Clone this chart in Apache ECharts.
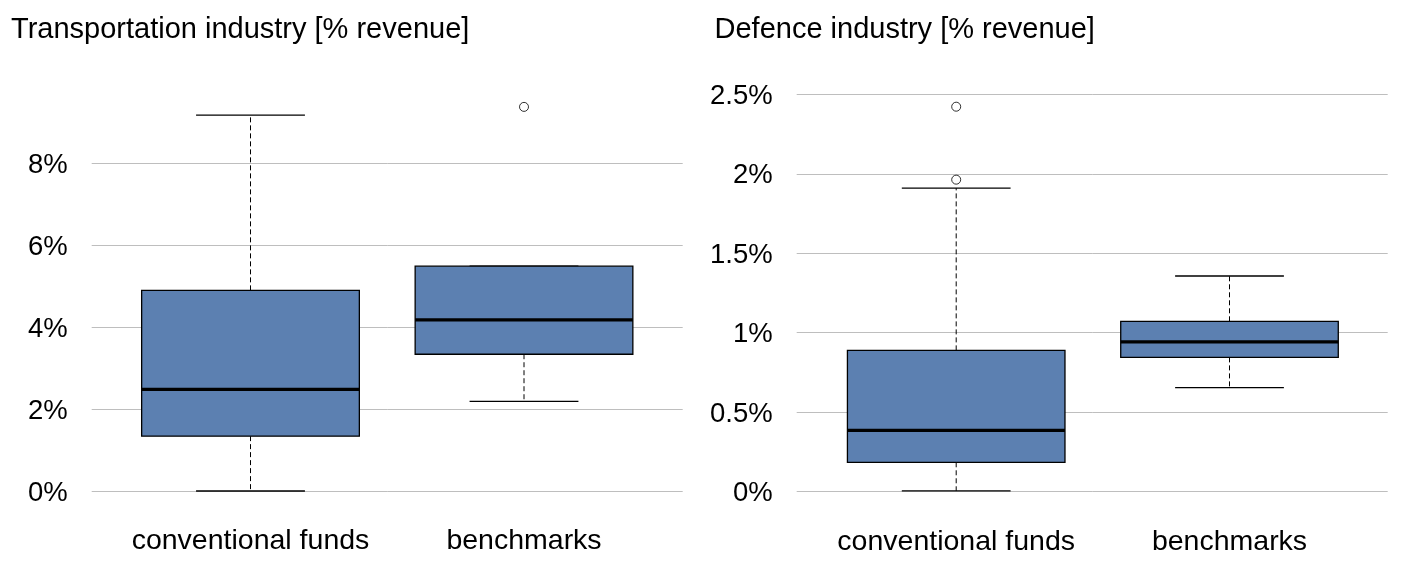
<!DOCTYPE html>
<html>
<head>
<meta charset="utf-8">
<script src="https://cdn.jsdelivr.net/npm/echarts@6/dist/echarts.min.js"></script>
<style>
html,body{margin:0;padding:0;background:#fff;}
#chart{width:1411px;height:576px;}
</style>
</head>
<body>
<div id="chart"></div>
<script>
// ---- data ----
const categories = ['conventional funds', 'benchmarks'];

const transportLow    = [0.00, 2.19];
const transportQ1     = [1.34, 3.34];
const transportMedian = [2.48, 4.18];
const transportQ3     = [4.90, 5.49];
const transportHigh   = [9.18, 5.49];
const transportOutliers = [[1, 9.38]];
const transportTicks = { min: 0, max: 8, interval: 2 };

const defenceLow    = [0.005, 0.655];
const defenceQ1     = [0.185, 0.845];
const defenceMedian = [0.386, 0.942];
const defenceQ3     = [0.889, 1.072];
const defenceHigh   = [1.91, 1.357];
const defenceOutliers = [[0, 1.963], [0, 2.422]];
const defenceTicks = { min: 0, max: 2.5, interval: 0.5 };

const titles = ['Transportation industry [% revenue]', 'Defence industry [% revenue]'];

// ---- build ----
const FONT = '"Liberation Sans", Arial, sans-serif';
const BOX_COLOR = '#5c80b1';

function boxRows(low, q1, med, q3, high) {
  return categories.map((c, i) => [i, low[i], q1[i], med[i], q3[i], high[i]]);
}

function renderBox(params, api) {
  const x = api.value(0);
  const low = api.coord([x, api.value(1)]);
  const q1 = api.coord([x, api.value(2)]);
  const med = api.coord([x, api.value(3)]);
  const q3 = api.coord([x, api.value(4)]);
  const high = api.coord([x, api.value(5)]);
  const band = api.size([1, 0])[0];
  const bw = band * 0.796;
  const cw = bw / 2;
  const cx = low[0];
  const black = '#000';
  const children = [];
  if (high[1] < q3[1] - 0.5) {
    children.push({ type: 'line', shape: { x1: cx, y1: q3[1], x2: cx, y2: high[1] },
      style: { stroke: black, lineWidth: 1, lineDash: [5, 3] } });
  }
  children.push({ type: 'line', shape: { x1: cx, y1: q1[1], x2: cx, y2: low[1] },
    style: { stroke: black, lineWidth: 1, lineDash: [5, 3] } });
  children.push({ type: 'line', shape: { x1: cx - cw / 2, y1: high[1], x2: cx + cw / 2, y2: high[1] },
    style: { stroke: black, lineWidth: 1.3 } });
  children.push({ type: 'line', shape: { x1: cx - cw / 2, y1: low[1], x2: cx + cw / 2, y2: low[1] },
    style: { stroke: black, lineWidth: 1.3 } });
  children.push({ type: 'rect', shape: { x: cx - bw / 2, y: q3[1], width: bw, height: q1[1] - q3[1] },
    style: { fill: BOX_COLOR, stroke: black, lineWidth: 1.3 } });
  children.push({ type: 'line', shape: { x1: cx - bw / 2, y1: med[1], x2: cx + bw / 2, y2: med[1] },
    style: { stroke: black, lineWidth: 3.2 } });
  return { type: 'group', children: children };
}

function pctLabel(v) {
  return (Math.round(v * 100) / 100) + '%';
}

const chart = echarts.init(document.getElementById('chart'), null, { renderer: 'canvas' });

const catLabel = { interval: 0, margin: 35.5, fontFamily: FONT, fontSize: 28.5, color: '#000' };
const yLabel = { margin: 24, fontFamily: FONT, fontSize: 27.5, color: '#000', formatter: pctLabel,
  verticalAlign: 'top', lineHeight: 4 };

const option = {
  animation: false,
  backgroundColor: '#fff',
  title: [
    { text: titles[0], left: 11, top: 15, padding: 0,
      textStyle: { fontFamily: FONT, fontSize: 29, fontWeight: 'normal', color: '#000' } },
    { text: titles[1], left: 714.5, top: 15, padding: 0,
      textStyle: { fontFamily: FONT, fontSize: 29, fontWeight: 'normal', color: '#000' } }
  ],
  grid: [
    { left: 91.7, width: 591, top: 163.4, height: 327.6 },
    { left: 113.75, width: 547, top: 81.5, height: 409.5 },
    { left: 796.7, width: 591, top: 94.3, height: 397.4 },
    { left: 819.55, width: 546.6, top: 94.3, height: 397.4 }
  ],
  xAxis: [
    { gridIndex: 0, type: 'value', min: 0, max: 1, show: false },
    { gridIndex: 1, type: 'category', data: categories, boundaryGap: true,
      axisLine: { show: false }, axisTick: { show: false }, splitLine: { show: false },
      axisLabel: catLabel },
    { gridIndex: 2, type: 'value', min: 0, max: 1, show: false },
    { gridIndex: 3, type: 'category', data: categories, boundaryGap: true,
      axisLine: { show: false }, axisTick: { show: false }, splitLine: { show: false },
      axisLabel: catLabel }
  ],
  yAxis: [
    { gridIndex: 0, type: 'value', min: transportTicks.min, max: transportTicks.max, interval: transportTicks.interval,
      axisLine: { show: false }, axisTick: { show: false },
      splitLine: { show: true, lineStyle: { color: '#bebebe', width: 1 } },
      axisLabel: yLabel },
    { gridIndex: 1, type: 'value', min: 0, max: 10, show: false, splitLine: { show: false } },
    { gridIndex: 2, type: 'value', min: defenceTicks.min, max: defenceTicks.max, interval: defenceTicks.interval,
      axisLine: { show: false }, axisTick: { show: false },
      splitLine: { show: true, lineStyle: { color: '#bebebe', width: 1 } },
      axisLabel: yLabel },
    { gridIndex: 3, type: 'value', min: defenceTicks.min, max: defenceTicks.max, show: false, splitLine: { show: false } }
  ],
  series: [
    { type: 'custom', xAxisIndex: 1, yAxisIndex: 1, renderItem: renderBox, clip: false,
      encode: { x: 0, y: [1, 2, 3, 4, 5] },
      data: boxRows(transportLow, transportQ1, transportMedian, transportQ3, transportHigh) },
    { type: 'scatter', xAxisIndex: 1, yAxisIndex: 1, clip: false, symbol: 'circle', symbolSize: 9,
      itemStyle: { color: '#fff', borderColor: '#000', borderWidth: 1 },
      data: transportOutliers },
    { type: 'custom', xAxisIndex: 3, yAxisIndex: 3, renderItem: renderBox, clip: false,
      encode: { x: 0, y: [1, 2, 3, 4, 5] },
      data: boxRows(defenceLow, defenceQ1, defenceMedian, defenceQ3, defenceHigh) },
    { type: 'scatter', xAxisIndex: 3, yAxisIndex: 3, clip: false, symbol: 'circle', symbolSize: 9,
      itemStyle: { color: '#fff', borderColor: '#000', borderWidth: 1 },
      data: defenceOutliers }
  ]
};
chart.setOption(option);
</script>
</body>
</html>
